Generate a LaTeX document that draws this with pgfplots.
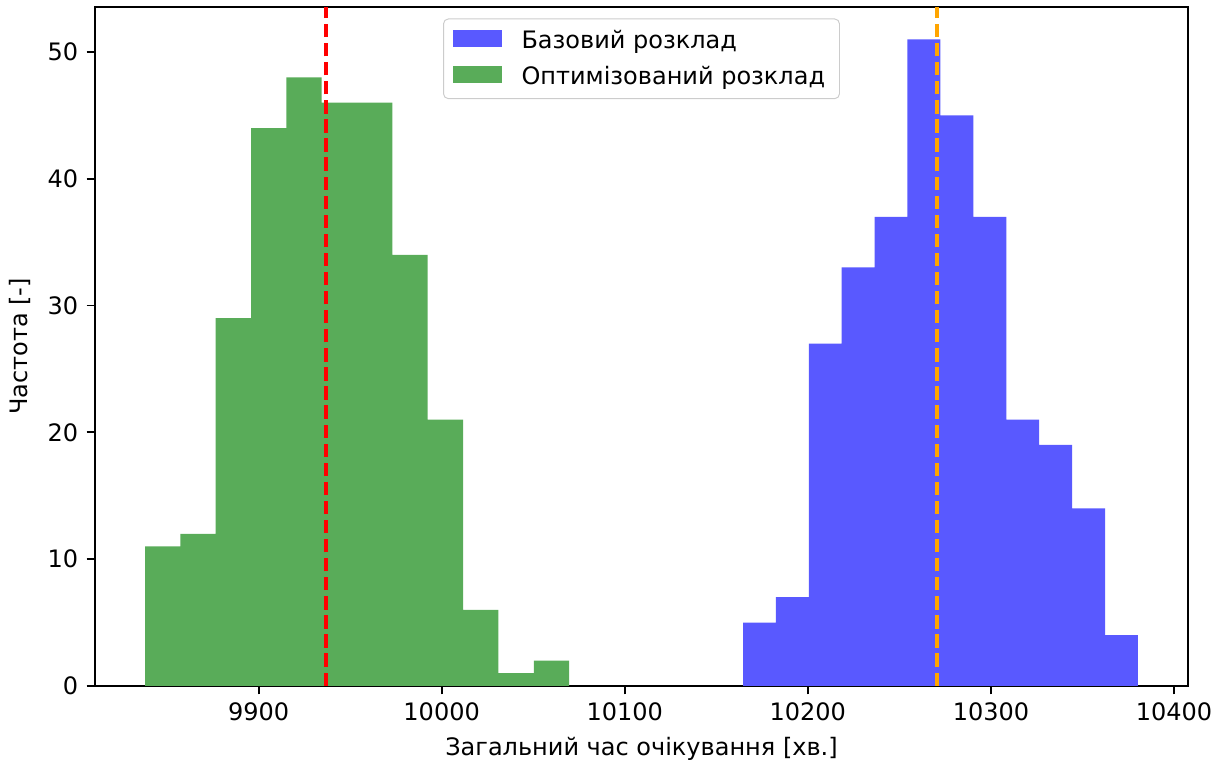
\documentclass[border=0pt]{standalone}
\usepackage{fontspec}
\setmainfont{DejaVu Sans}
\usepackage{pgfplots}
\pgfplotsset{compat=1.18}
\definecolor{histblue}{RGB}{89,89,255}
\definecolor{histgreen}{RGB}{89,172,89}
\definecolor{legendgray}{gray}{0.8}
\definecolor{mplorange}{RGB}{255,165,0}

\begin{document}
\begin{tikzpicture}
\begin{axis}[
  scale only axis, width=455.4pt, height=282.9pt,
  xmin=9810.7, xmax=10407.6, ymin=0, ymax=53.55,
  xtick={9900,10000,10100,10200,10300,10400},
  ytick={0,10,20,30,40,50},
  scaled ticks=false,
  xticklabel style={/pgf/number format/fixed, /pgf/number format/precision=0},
  tick align=outside, xtick pos=left, ytick pos=left,
  major tick length=3.5pt,
  tick style={black, line width=0.8pt},
  axis line style={black, line width=0.8pt},
  /pgf/number format/assume math mode=true,
  /pgf/number format/1000 sep={},
  xlabel={Загальний час очікування [хв.]},
  ylabel={Частота [-]},
  every tick label/.append style={font=\fontsize{10}{12}\selectfont, text=black},
  label style={font=\fontsize{10}{12}\selectfont},
  legend style={at={(0.5,0.983)}, anchor=north, draw=legendgray, rounded corners=2pt,
    fill=white, font=\fontsize{10}{12}\selectfont,
    inner xsep=4pt, inner ysep=2.5pt, row sep=2pt,
    /tikz/every odd column/.append style={column sep=6pt}},
  legend cell align=left,
  legend image code/.code={\fill[#1, sharp corners] (0pt,-2.5pt) rectangle (20.5pt,4.5pt);},
]
\addplot[ybar interval, fill=histblue, draw=none] coordinates {
(10164.6,5) (10182.6,7) (10200.5,27) (10218.5,33) (10236.5,37) (10254.4,51)
(10272.4,45) (10290.4,37) (10308.4,21) (10326.3,19) (10344.3,14) (10362.3,4) (10380.3,4)};
\addlegendentry{Базовий розклад}
\addplot[ybar interval, fill=histgreen, draw=none] coordinates {
(9838.0,11) (9857.3,12) (9876.6,29) (9895.9,44) (9915.2,48) (9934.5,46)
(9953.8,46) (9973.1,34) (9992.4,21) (10011.7,6) (10031.0,1) (10050.3,2) (10069.6,2)};
\addlegendentry{Оптимізований розклад}
\addplot[red, line width=1.5pt, dash pattern=on 5.55pt off 2.4pt, forget plot] coordinates {(9936.9,0) (9936.9,53.55)};
\addplot[mplorange, line width=1.5pt, dash pattern=on 5.55pt off 2.4pt, forget plot] coordinates {(10270.6,0) (10270.6,53.55)};
\end{axis}
\pgfresetboundingbox
\path[use as bounding box] ([shift={(-39.6pt,-31.7pt)}]current axis.south west) rectangle ([shift={(12.1pt,2.9pt)}]current axis.north east);
\end{tikzpicture}
\end{document}
